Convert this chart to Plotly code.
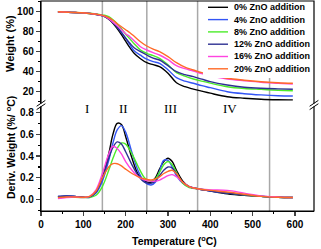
import plotly.graph_objects as go

# ---------------- data ----------------
series_names = ["0% ZnO addition", "4% ZnO addition", "8% ZnO addition",
                "12% ZnO addition", "16% ZnO addition", "20% ZnO addition"]
series_colors = ["#000000", "#3355f5", "#4cec2a", "#2e3192", "#ff44e0", "#ff6a28"]

tg_temp = [40, 80, 120, 140, 150, 160, 170, 180, 190, 200, 210, 220, 235, 250, 265,
           280, 300, 320, 340, 360, 380, 400, 440, 480, 520, 560, 595]
tg_0 = [100, 99.2, 98, 96.5, 95.2, 92.5, 88.5, 83, 77, 70.5, 64, 58.5, 53, 49, 47,
        45, 38.5, 29, 25, 22.6, 20.5, 18.5, 15, 13.5, 12.5, 12, 11.8]
tg_4 = [100, 99.2, 98, 96.6, 95.5, 93, 89.5, 85, 79.5, 73.5, 67, 61, 56.5, 52.5, 50,
        48.4, 42, 34, 30.5, 28.4, 26, 24, 20, 18, 16.8, 16, 15.7]
tg_8 = [100, 99.2, 98.2, 97, 96.5, 95, 92, 88, 83, 77.5, 73, 68, 61.7, 58.4, 56,
        53.4, 47, 39, 35.5, 32.7, 30.5, 28.5, 25, 23.2, 22.3, 21.5, 21]
tg_12 = [100, 99.2, 98, 96.6, 95.5, 93, 89, 84.5, 79, 73.5, 68.4, 64, 60, 56.7, 53.5,
         51.7, 46, 40, 37, 35, 32.5, 30, 26.7, 24.5, 23.4, 22.8, 22.4]
tg_16 = [100, 99.2, 98, 96.6, 95.5, 93, 89.5, 86, 82, 78, 75, 71, 65, 61.7, 59,
         56.7, 52, 46, 43, 40.7, 38, 35.5, 32.7, 31, 29.5, 28.5, 27.7]
tg_20 = [100, 99.2, 98, 96.8, 95.8, 94, 91.5, 88, 85, 82, 79, 75.5, 70, 65.7, 62.5,
         60, 55, 49, 44.5, 41.7, 39, 37, 33.4, 31.5, 30, 29, 28.4]

dtg_temp = [40, 60, 80, 100, 115, 130, 145, 160, 170, 180, 190, 200, 215, 230, 245, 260,
            270, 280, 290, 300, 310, 320, 335, 350, 370, 400, 440, 480, 520, 560, 595]
dtg_0 = [0.025, 0.032, 0.03, 0.022, 0.025, 0.07, 0.2, 0.42, 0.6, 0.7, 0.69, 0.58, 0.38,
         0.23, 0.17, 0.16, 0.2, 0.28, 0.35, 0.38, 0.35, 0.27, 0.17, 0.12, 0.1, 0.08,
         0.055, 0.04, 0.03, 0.022, 0.02]
dtg_4 = [0.03, 0.035, 0.03, 0.022, 0.022, 0.06, 0.17, 0.36, 0.52, 0.64, 0.68, 0.62, 0.43,
         0.26, 0.16, 0.135, 0.16, 0.26, 0.36, 0.36, 0.3, 0.22, 0.15, 0.12, 0.1, 0.08,
         0.06, 0.045, 0.03, 0.022, 0.02]
dtg_8 = [0.02, 0.025, 0.022, 0.02, 0.02, 0.04, 0.12, 0.27, 0.38, 0.47, 0.52, 0.51, 0.42,
         0.3, 0.2, 0.17, 0.19, 0.25, 0.32, 0.35, 0.32, 0.25, 0.15, 0.11, 0.1, 0.085,
         0.065, 0.045, 0.03, 0.022, 0.02]
dtg_12 = [0.03, 0.033, 0.03, 0.022, 0.025, 0.07, 0.2, 0.38, 0.48, 0.53, 0.51, 0.44, 0.32,
          0.22, 0.16, 0.15, 0.17, 0.22, 0.27, 0.3, 0.29, 0.24, 0.16, 0.12, 0.1, 0.08,
          0.06, 0.045, 0.03, 0.022, 0.02]
dtg_16 = [0.01, 0.02, 0.025, 0.02, 0.03, 0.09, 0.24, 0.42, 0.49, 0.47, 0.42, 0.35, 0.27,
          0.21, 0.18, 0.17, 0.17, 0.18, 0.2, 0.22, 0.23, 0.21, 0.16, 0.12, 0.1, 0.09,
          0.085, 0.06, 0.035, 0.025, 0.02]
dtg_20 = [0.02, 0.025, 0.025, 0.022, 0.03, 0.08, 0.2, 0.3, 0.33, 0.33, 0.31, 0.28, 0.24,
          0.21, 0.19, 0.18, 0.19, 0.21, 0.24, 0.26, 0.27, 0.24, 0.16, 0.12, 0.1, 0.085,
          0.07, 0.05, 0.03, 0.022, 0.02]

region_bounds = [145, 250, 370, 540]
region_labels = ["I", "II", "III", "IV"]
region_label_x = [109, 194, 307, 446]

tg_all = [tg_0, tg_4, tg_8, tg_12, tg_16, tg_20]
dtg_all = [dtg_0, dtg_4, dtg_8, dtg_12, dtg_16, dtg_20]

# ---------------- figure ----------------
FONT = "Arial, Liberation Sans, sans-serif"
W, H = 321, 249
ML, MR, MT, MB = 41, 7, 1, 38
PW, PH = W - ML - MR, H - MT - MB


def px(xp):  # pixel -> paper x
    return (xp - ML) / PW


def py(yp):  # pixel -> paper y
    return (H - MB - yp) / PH


fig = go.Figure()
for name, col, tg, dtg in zip(series_names, series_colors, tg_all, dtg_all):
    fig.add_trace(go.Scatter(x=tg_temp, y=tg, mode="lines", name=name,
                             line=dict(color=col, width=1.4, shape="spline"),
                             xaxis="x", yaxis="y2", showlegend=False))
    fig.add_trace(go.Scatter(x=dtg_temp, y=dtg, mode="lines", name=name,
                             line=dict(color=col, width=1.4, shape="spline"),
                             xaxis="x", yaxis="y", showlegend=False))

BREAK = 0.5048
tickfont = dict(family=FONT, size=10, color="black", weight="bold")
common = dict(ticks="outside", ticklen=4, tickwidth=1.2, showline=True,
              linecolor="black", linewidth=1.2, showgrid=False, zeroline=False,
              tickfont=tickfont, automargin=False)

fig.update_layout(
    width=W, height=H,
    margin=dict(l=ML, r=MR, t=MT, b=MB, autoexpand=False),
    paper_bgcolor="white", plot_bgcolor="white",
    showlegend=False,
    xaxis=dict(range=[0, 645], dtick=100, tick0=0, anchor="y",
               minor=dict(ticks="outside", ticklen=2, dtick=50, tickcolor="black"),
               **common),
    yaxis=dict(domain=[0, BREAK], range=[-0.104, 0.869], dtick=0.2, tick0=0,
               tickformat=".1f", anchor="x",
               minor=dict(ticks="outside", ticklen=2, dtick=0.1, tickcolor="black"),
               **common),
    yaxis2=dict(domain=[BREAK, 1], range=[6.7, 110.7], dtick=20, tick0=0, anchor="x",
                minor=dict(ticks="outside", ticklen=2, dtick=10, tickcolor="black"),
                **common),
)

shapes = []
for b in region_bounds:
    shapes.append(dict(type="line", xref="x", yref="paper", x0=b, x1=b, y0=0, y1=1,
                       line=dict(color="#a8a8a8", width=1.5), layer="below"))

# legend (drawn manually to match compact layout)
shapes.append(dict(type="rect", xref="paper", yref="paper",
                   x0=px(203), x1=px(312), y0=py(78), y1=py(1.5),
                   fillcolor="white", line=dict(width=0), layer="above"))
annotations = []
for i, (name, col) in enumerate(zip(series_names, series_colors)):
    yy = py(7.3 + 12.3 * i)
    shapes.append(dict(type="line", xref="paper", yref="paper",
                       x0=px(208), x1=px(228), y0=yy, y1=yy,
                       line=dict(color=col, width=1.4)))
    annotations.append(dict(text=name, x=px(231.5), y=yy, xref="paper", yref="paper",
                            xanchor="left", yanchor="middle", showarrow=False,
                            font=dict(family=FONT, size=9, color="black",
                                      weight="bold")))

shapes.append(dict(type="rect", xref="paper", yref="paper", x0=0, x1=1, y0=0, y1=1,
                   line=dict(color="black", width=1.2)))
# axis break marks
dx, dy = 0.016, 0.014
for xb in (0, 1):
    shapes.append(dict(type="rect", xref="paper", yref="paper",
                       x0=xb - 0.006, x1=xb + 0.006, y0=BREAK - 0.007, y1=BREAK + 0.007,
                       fillcolor="white", line=dict(width=0)))
    for off in (-0.008, 0.008):
        shapes.append(dict(type="line", xref="paper", yref="paper",
                           x0=xb - dx, x1=xb + dx,
                           y0=BREAK + off - dy, y1=BREAK + off + dy,
                           line=dict(color="black", width=1)))
fig.update_layout(shapes=shapes)

for lab, lx in zip(region_labels, region_label_x):
    annotations.append(dict(text=lab, x=lx, y=py(108.5), xref="x", yref="paper",
                            yanchor="middle", showarrow=False,
                            font=dict(family="Liberation Serif, Times New Roman, serif",
                                      size=13, color="black")))
annotations.append(dict(text="<b>Weight (%)</b>", x=px(10), y=py(44), xref="paper",
                        yref="paper", textangle=-90, showarrow=False,
                        xanchor="center", yanchor="middle",
                        font=dict(family=FONT, size=11, color="black")))
annotations.append(dict(text="<b>Deriv. Weight (%/ <sup>o</sup>C)</b>", x=px(10),
                        y=py(148), xref="paper", yref="paper", textangle=-90,
                        xanchor="center", yanchor="middle",
                        showarrow=False, font=dict(family=FONT, size=10.5, color="black")))
annotations.append(dict(text="<b>Temperature (<sup>o</sup>C)</b>", x=0.49, y=py(240),
                        xref="paper", yref="paper", showarrow=False,
                        xanchor="center", yanchor="middle",
                        font=dict(family=FONT, size=10.5, color="black")))
fig.update_layout(annotations=annotations)

fig.write_html("out.html",
               config={"displayModeBar": False, "staticPlot": True},
               post_script="document.body.style.margin='0';document.body.style.overflow='hidden';")
